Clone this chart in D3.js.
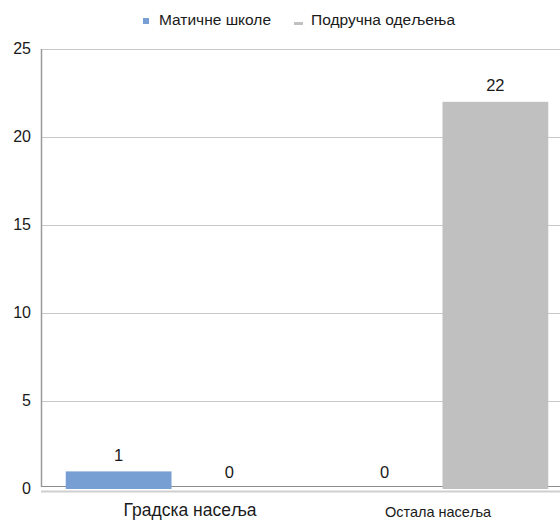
<!DOCTYPE html>
<html><head><meta charset="utf-8">
<script src="https://cdn.jsdelivr.net/npm/d3@7"></script>
<style>body{margin:0;background:#fff}svg{display:block}</style>
</head><body>
<svg id="c" width="560" height="521"></svg>
<script>
const categories = ["Градска насеља", "Остала насеља"];
const seriesNames = ["Матичне школе", "Подручна одељења"];
const maticne = [1, 0];
const podrucna = [0, 22];
const yTicks = [0, 5, 10, 15, 20, 25];

(function () {
const colors = ["#779fd3", "#c0c0c0"];
const series = [maticne, podrucna];
const svg = d3.select("#c");
const font = "Liberation Sans, Arial, sans-serif";

const pLeft = 41, pRight = 573, pTop = 49, pBottom = 489;
const y = d3.scaleLinear().domain([0, 25]).range([pBottom, pTop]);
const x0 = d3.scaleBand().domain(categories).range([pLeft, pRight]).paddingInner(0.186).paddingOuter(0.093);
const x1 = d3.scaleBand().domain(seriesNames).range([0, x0.bandwidth()]).paddingInner(0.045);

// gridlines
svg.append("g").selectAll("line").data(yTicks.filter(t => t > 0)).join("line")
  .attr("x1", pLeft).attr("x2", 560)
  .attr("y1", d => Math.round(y(d)) + 0.5).attr("y2", d => Math.round(y(d)) + 0.5)
  .attr("stroke", "#c8c8c8").attr("stroke-width", 1);

// baseline lines
svg.append("line").attr("x1", pLeft).attr("x2", 560).attr("y1", 486.5).attr("y2", 486.5)
  .attr("stroke", "#8c8c8c").attr("stroke-width", 1);
svg.append("line").attr("x1", pLeft).attr("x2", 560).attr("y1", 491.5).attr("y2", 491.5)
  .attr("stroke", "#cfcfcf").attr("stroke-width", 2);

// y axis line
svg.append("line").attr("x1", pLeft + 0.5).attr("x2", pLeft + 0.5).attr("y1", pTop).attr("y2", 487)
  .attr("stroke", "#9a9a9a").attr("stroke-width", 1.5);

// y tick labels
svg.append("g").selectAll("text").data(yTicks).join("text")
  .attr("x", 31).attr("y", d => y(d) + 1)
  .attr("text-anchor", "end").attr("dominant-baseline", "middle")
  .attr("font-family", font).attr("font-size", 16).attr("fill", "#1a1a1a")
  .text(d => d);

// bars
const groups = svg.append("g").selectAll("g").data(categories).join("g")
  .attr("transform", d => `translate(${x0(d)},0)`);
groups.each(function(cat, ci) {
  const g = d3.select(this);
  seriesNames.forEach((s, si) => {
    const v = series[si][ci];
    if (v > 0) {
      g.append("rect").attr("x", x1(s)).attr("width", x1.bandwidth())
        .attr("y", y(v)).attr("height", y(0) - y(v)).attr("fill", colors[si]);
    }
    g.append("text").attr("x", x1(s) + x1.bandwidth() / 2).attr("y", y(v) - 15)
      .attr("text-anchor", "middle").attr("dominant-baseline", "middle")
      .attr("font-family", font).attr("font-size", 16.5).attr("fill", "#1a1a1a")
      .text(v);
  });
});

// category labels
const labelDx = [16, -2];
const labelSize = [17.5, 14.5];
const labelY = [511, 513];
svg.append("g").selectAll("text").data(categories).join("text")
  .attr("x", (d, i) => x0(d) + x0.bandwidth() / 2 + labelDx[i])
  .attr("y", (d, i) => labelY[i]).attr("text-anchor", "middle").attr("dominant-baseline", "middle")
  .attr("font-family", font).attr("font-size", (d, i) => labelSize[i]).attr("fill", "#1a1a1a")
  .text(d => d);

// legend
const lg = svg.append("g");
lg.append("rect").attr("x", 143).attr("y", 18).attr("width", 6).attr("height", 6).attr("fill", colors[0]);
lg.append("text").attr("x", 159).attr("y", 21).attr("dominant-baseline", "middle")
  .attr("font-family", font).attr("font-size", 15.5).attr("fill", "#1a1a1a").text(seriesNames[0]);
lg.append("rect").attr("x", 294).attr("y", 22).attr("width", 9).attr("height", 3).attr("fill", colors[1]);
lg.append("text").attr("x", 311).attr("y", 21).attr("dominant-baseline", "middle")
  .attr("font-family", font).attr("font-size", 15.5).attr("fill", "#1a1a1a").text(seriesNames[1]);
})();
</script>
</body></html>
